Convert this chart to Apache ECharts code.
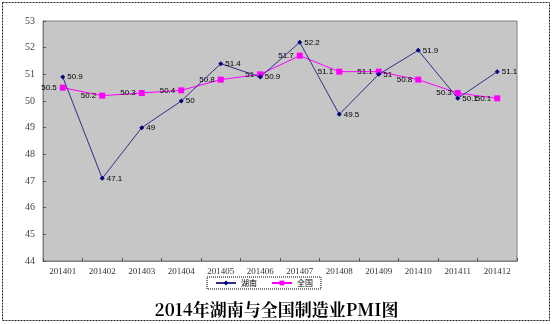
<!DOCTYPE html>
<html><head><meta charset="utf-8">
<script src="https://cdn.jsdelivr.net/npm/echarts@6/dist/echarts.min.js"></script>
<style>html,body{margin:0;padding:0;background:#fff}#c{width:553px;height:324px}</style>
</head><body><div id="c"></div>
<script>
const categories = ['201401','201402','201403','201404','201405','201406','201407','201408','201409','201410','201411','201412'];
const hunan = [50.9, 47.1, 49, 50, 51.4, 50.9, 52.2, 49.5, 51, 51.9, 50.1, 51.1];
const national = [50.5, 50.2, 50.3, 50.4, 50.8, 51, 51.7, 51.1, 51.1, 50.8, 50.3, 50.1];
const yTicks = [44, 45, 46, 47, 48, 49, 50, 51, 52, 53];

const chart = echarts.init(document.getElementById('c'), null, {renderer: 'canvas'});
const fmt = p => String(p.value);
chart.setOption({
  animation: false,
  backgroundColor: '#fff',
  title: {
    text: '2014年湖南与全国制造业PMI图',
    left: 'center', top: 296,
    textStyle: {fontFamily: '"Noto Serif CJK SC", "Noto Sans CJK SC"', fontSize: 17, fontWeight: 'bold', color: '#000'}
  },
  legend: {
    top: 277, left: 207,
    itemWidth: 20, itemHeight: 6, itemGap: 14,
    padding: [2, 8],
    borderColor: '#000', borderWidth: 1, borderType: 'dotted',
    textStyle: {fontSize: 8, color: '#000', fontFamily: 'Noto Sans CJK SC'},
    data: ['湖南', '全国']
  },
  grid: {left: 43, top: 21, width: 474, height: 240, show: true, backgroundColor: '#c6c6c6', borderColor: '#808080', borderWidth: 1},
  xAxis: {
    type: 'category', data: categories, boundaryGap: true,
    axisLine: {lineStyle: {color: '#808080'}},
    axisTick: {show: true, lineStyle: {color: '#555'}, length: 3, inside: true},
    axisLabel: {fontSize: 9, color: '#333', fontFamily: '"Liberation Serif", serif', margin: 6}
  },
  yAxis: {
    type: 'value', min: yTicks[0], max: yTicks[yTicks.length - 1], interval: 1,
    splitLine: {show: false},
    axisLine: {show: true, lineStyle: {color: '#808080'}},
    axisTick: {show: true, inside: true, length: 3, lineStyle: {color: '#555'}},
    axisLabel: {fontSize: 10, color: '#444', fontFamily: '"Liberation Serif", serif', margin: 8}
  },
  graphic: [{type: 'rect', shape: {x: 2.5, y: 2.5, width: 547, height: 318}, style: {fill: 'none', stroke: '#222', lineWidth: 1, lineDash: [2, 1]}, silent: true, z: -1}],
  series: [
    {
      name: '湖南', type: 'line', data: hunan,
      symbol: 'diamond', symbolSize: 5,
      lineStyle: {color: '#30308a', width: 1},
      itemStyle: {color: '#000080'},
      label: {show: true, position: 'right', distance: 2, fontSize: 8, color: '#000', formatter: fmt},
      z: 3
    },
    {
      name: '全国', type: 'line', data: national,
      symbol: 'rect', symbolSize: 6,
      lineStyle: {color: '#ff00ff', width: 1},
      itemStyle: {color: '#ff00ff'},
      label: {show: true, position: 'left', distance: 3, fontSize: 8, color: '#000', formatter: fmt},
      z: 2
    }
  ]
});
</script></body></html>
